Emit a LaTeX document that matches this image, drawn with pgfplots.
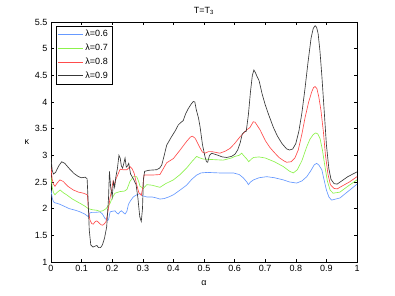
\documentclass[border=0pt]{standalone}
\usepackage{pgfplots}
\pgfplotsset{compat=1.18}
\usepackage{fontspec}
\setmainfont{Liberation Sans}
\definecolor{cblue}{rgb}{0.4,0.6,1}
\definecolor{cgreen}{rgb}{0.55,0.95,0.3}
\definecolor{cred}{rgb}{1,0.3,0.3}
\definecolor{cblack}{rgb}{0.22,0.22,0.22}
\begin{document}
\begin{tikzpicture}
\path[use as bounding box] (-51pt,-34pt) rectangle (344pt,262pt);
\begin{axis}[
  at={(0pt,0pt)}, anchor=south west,
  scale only axis, width=306pt, height=240pt,
  xmin=0, xmax=1, ymin=1, ymax=5.5,
  xtick={0,0.1,...,1}, ytick={1,1.5,...,5.5},
  xticklabels={0,0.1,0.2,0.3,0.4,0.5,0.6,0.7,0.8,0.9,1},
  yticklabels={1,1.5,2,2.5,3,3.5,4,4.5,5,5.5},
  tick align=inside, major tick length=3pt,
  tick style={black, line width=0.5pt},
  axis line style={black, line width=0.6pt},
  ticklabel style={font=\fontsize{9}{10}\selectfont},
  /pgf/number format/assume math mode=true,
  xlabel={α}, ylabel={κ},
  every axis x label/.style={at={(axis description cs:0.5,0)}, yshift=-21pt, anchor=center, font=\fontsize{9}{10}\selectfont},
  every axis y label/.style={at={(axis description cs:0,0.5)}, xshift=-24pt, anchor=center, font=\fontsize{9}{10}\selectfont},
  title={T=T\textsubscript{3}},
  every axis title/.style={at={(axis description cs:0.5,1)}, yshift=11pt, anchor=center, font=\fontsize{9}{10}\selectfont},
  legend style={at={(0.015,0.983)}, anchor=north west, draw=black, line width=0.5pt,
    font=\fontsize{9}{10}\selectfont, inner sep=2pt, row sep=1.8pt, cells={anchor=west}},
  legend image code/.code={\draw[#1] (0pt,0pt) -- (25pt,0pt);},
  every axis plot/.append style={line width=0.65pt},
]
\addplot[cblue] coordinates {(0,2.35) (0.004,2.2) (0.008,2.13) (0.013,2.11) (0.02,2.1) (0.03,2.08) (0.045,2.04) (0.06,2.0) (0.08,1.97) (0.095,1.94) (0.11,1.9) (0.122,1.85) (0.127,1.92) (0.133,1.93) (0.145,1.93) (0.16,1.94) (0.168,1.9) (0.176,1.82) (0.184,1.78) (0.188,1.79) (0.193,1.94) (0.2,1.95) (0.209,1.96) (0.215,1.92) (0.22,1.9) (0.225,1.94) (0.23,1.96) (0.236,1.93) (0.242,1.9) (0.248,1.95) (0.253,2.08) (0.26,2.15) (0.269,2.22) (0.28,2.26) (0.291,2.28) (0.3,2.24) (0.313,2.22) (0.33,2.22) (0.345,2.2) (0.356,2.18) (0.37,2.19) (0.385,2.22) (0.4,2.26) (0.422,2.35) (0.443,2.44) (0.46,2.55) (0.476,2.63) (0.49,2.67) (0.51,2.68) (0.55,2.67) (0.596,2.67) (0.615,2.64) (0.628,2.58) (0.64,2.5) (0.645,2.45) (0.652,2.5) (0.662,2.54) (0.68,2.58) (0.705,2.6) (0.73,2.58) (0.759,2.54) (0.78,2.5) (0.803,2.48) (0.82,2.52) (0.836,2.6) (0.85,2.72) (0.86,2.82) (0.868,2.85) (0.875,2.82) (0.885,2.73) (0.892,2.55) (0.9,2.35) (0.908,2.22) (0.917,2.16) (0.93,2.18) (0.944,2.2) (0.97,2.32) (1,2.46)};
\addlegendentry{λ=0.6}
\addplot[cgreen] coordinates {(0,2.6) (0.004,2.4) (0.008,2.3) (0.013,2.26) (0.019,2.3) (0.03,2.35) (0.04,2.3) (0.051,2.26) (0.07,2.18) (0.095,2.1) (0.11,2.05) (0.122,2.0) (0.135,1.98) (0.149,1.97) (0.16,1.95) (0.169,1.96) (0.18,2.0) (0.193,2.1) (0.2,2.2) (0.209,2.29) (0.225,2.32) (0.24,2.33) (0.248,2.36) (0.258,2.51) (0.269,2.6) (0.28,2.6) (0.287,2.5) (0.291,2.42) (0.302,2.38) (0.313,2.45) (0.33,2.44) (0.356,2.4) (0.375,2.47) (0.4,2.54) (0.422,2.64) (0.443,2.76) (0.46,2.88) (0.476,2.98) (0.487,2.95) (0.498,2.93) (0.53,2.92) (0.563,2.91) (0.59,2.95) (0.601,2.98) (0.615,3.0) (0.623,3.04) (0.632,2.98) (0.64,2.93) (0.646,2.88) (0.655,2.93) (0.662,2.96) (0.68,2.97) (0.7,2.95) (0.73,2.88) (0.759,2.79) (0.78,2.7) (0.792,2.67) (0.805,2.73) (0.82,2.9) (0.835,3.15) (0.846,3.3) (0.857,3.39) (0.865,3.42) (0.872,3.4) (0.879,3.32) (0.887,3.1) (0.895,2.8) (0.903,2.52) (0.912,2.35) (0.922,2.29) (0.944,2.31) (0.97,2.42) (1,2.54)};
\addlegendentry{λ=0.7}
\addplot[cred] coordinates {(0,2.78) (0.004,2.55) (0.008,2.46) (0.013,2.42) (0.02,2.48) (0.029,2.54) (0.04,2.51) (0.055,2.42) (0.073,2.35) (0.09,2.31) (0.106,2.29) (0.119,2.26) (0.122,2.0) (0.127,1.79) (0.133,1.72) (0.138,1.71) (0.145,1.76) (0.15,1.77) (0.156,1.74) (0.163,1.7) (0.169,1.69) (0.175,1.72) (0.18,1.76) (0.187,1.98) (0.193,2.2) (0.198,2.35) (0.203,2.52) (0.207,2.45) (0.212,2.55) (0.22,2.66) (0.226,2.74) (0.235,2.73) (0.248,2.73) (0.258,2.79) (0.265,2.75) (0.272,2.66) (0.28,2.45) (0.287,2.3) (0.295,2.25) (0.3,2.4) (0.304,2.63) (0.33,2.63) (0.356,2.64) (0.37,2.78) (0.378,2.86) (0.4,2.94) (0.422,3.1) (0.443,3.26) (0.455,3.34) (0.462,3.36) (0.471,3.32) (0.48,3.22) (0.487,3.14) (0.495,3.06) (0.503,3.04) (0.515,3.07) (0.525,3.07) (0.552,3.04) (0.57,3.08) (0.585,3.13) (0.6,3.22) (0.618,3.35) (0.63,3.42) (0.64,3.48) (0.65,3.52) (0.661,3.63) (0.667,3.62) (0.675,3.55) (0.683,3.48) (0.7,3.28) (0.715,3.15) (0.727,3.07) (0.745,2.96) (0.76,2.9) (0.77,2.87) (0.785,2.88) (0.797,2.95) (0.808,3.1) (0.82,3.4) (0.83,3.7) (0.842,4.0) (0.852,4.19) (0.858,4.27) (0.863,4.29) (0.869,4.25) (0.875,4.1) (0.882,3.85) (0.89,3.45) (0.897,3.0) (0.905,2.65) (0.913,2.45) (0.925,2.38) (0.935,2.37) (0.95,2.42) (0.975,2.5) (1,2.6)};
\addlegendentry{λ=0.8}
\addplot[cblack] coordinates {(0,2.95) (0.004,2.72) (0.008,2.65) (0.015,2.68) (0.025,2.8) (0.035,2.88) (0.045,2.85) (0.06,2.75) (0.075,2.66) (0.09,2.6) (0.1,2.58) (0.112,2.59) (0.118,2.56) (0.121,2.2) (0.125,1.6) (0.13,1.32) (0.137,1.28) (0.145,1.3) (0.15,1.31) (0.155,1.27) (0.162,1.27) (0.168,1.32) (0.175,1.45) (0.182,1.66) (0.188,2.2) (0.191,2.7) (0.195,2.4) (0.2,2.22) (0.204,2.5) (0.208,2.4) (0.212,2.6) (0.217,2.75) (0.222,3.0) (0.226,2.95) (0.23,2.8) (0.234,2.76) (0.238,2.85) (0.242,2.95) (0.246,2.78) (0.25,2.8) (0.254,2.85) (0.26,2.65) (0.27,2.55) (0.278,2.45) (0.284,2.2) (0.29,1.85) (0.295,1.76) (0.299,2.0) (0.302,2.55) (0.306,2.7) (0.32,2.72) (0.345,2.73) (0.355,2.76) (0.362,2.82) (0.37,3.0) (0.378,3.19) (0.394,3.35) (0.405,3.45) (0.416,3.57) (0.425,3.62) (0.432,3.65) (0.44,3.78) (0.449,3.88) (0.458,3.96) (0.465,4.01) (0.47,4.0) (0.475,3.85) (0.482,3.7) (0.487,3.54) (0.495,3.2) (0.503,2.98) (0.508,2.88) (0.512,2.87) (0.518,3.0) (0.525,3.04) (0.541,3.01) (0.56,2.97) (0.574,2.96) (0.59,2.98) (0.601,3.02) (0.61,3.1) (0.618,3.23) (0.625,3.4) (0.632,3.44) (0.638,3.45) (0.645,3.76) (0.652,4.2) (0.658,4.5) (0.663,4.6) (0.668,4.55) (0.674,4.47) (0.68,4.4) (0.69,4.15) (0.7,3.95) (0.712,3.75) (0.727,3.52) (0.74,3.36) (0.755,3.22) (0.77,3.12) (0.78,3.1) (0.79,3.12) (0.8,3.22) (0.81,3.45) (0.82,3.8) (0.83,4.25) (0.84,4.75) (0.85,5.2) (0.857,5.38) (0.863,5.43) (0.868,5.4) (0.873,5.28) (0.879,4.95) (0.885,4.5) (0.892,3.9) (0.9,3.2) (0.908,2.75) (0.915,2.55) (0.925,2.47) (0.935,2.46) (0.95,2.52) (0.97,2.6) (1,2.69)};
\addlegendentry{λ=0.9}
\end{axis}
\end{tikzpicture}
\end{document}
